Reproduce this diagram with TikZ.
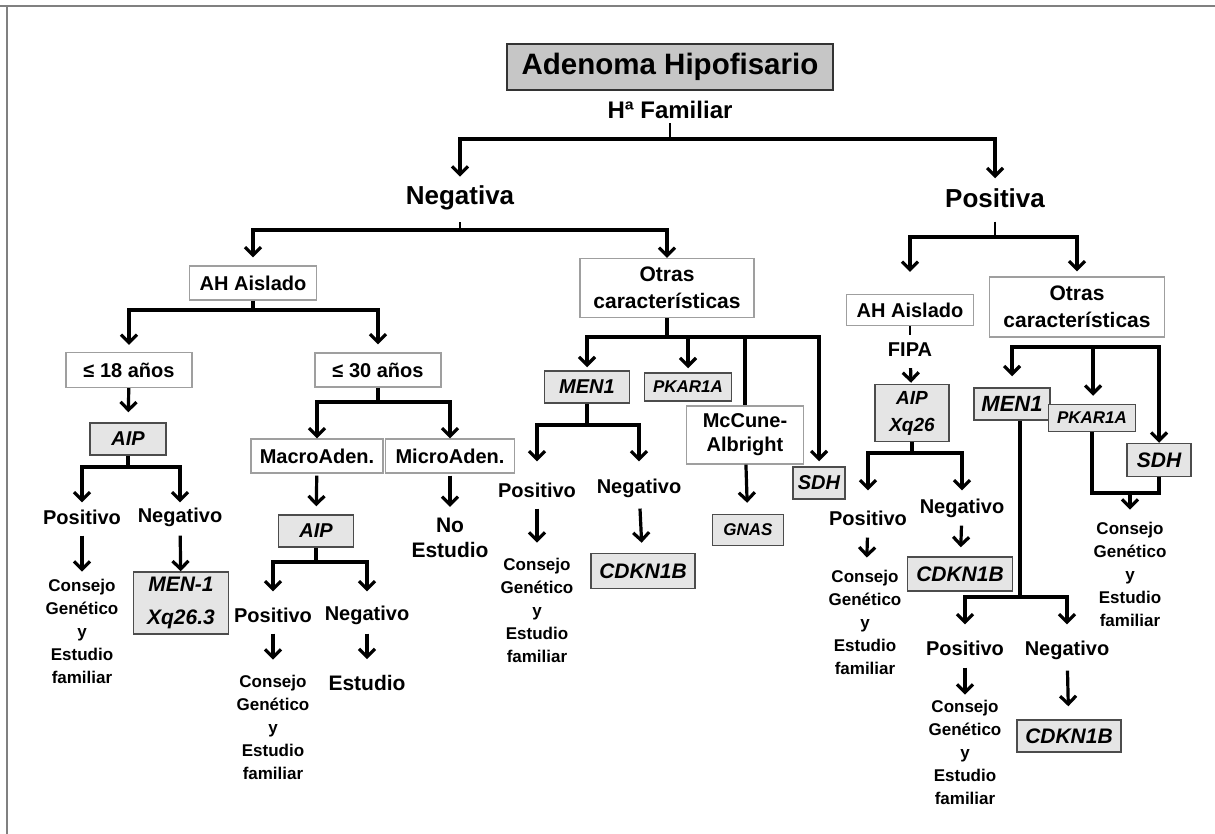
\documentclass[tikz,border=0pt]{standalone}
\usepackage{fontspec}
\setmainfont{Liberation Sans}
\usetikzlibrary{arrows.meta}
\tikzset{
 txt/.style={font=\bfseries\fontsize{20}{23}\selectfont, inner sep=1pt, align=center},
 big/.style={font=\bfseries\fontsize{26}{30}\selectfont, inner sep=1pt},
 cons/.style={font=\bfseries\fontsize{17}{23}\selectfont, inner sep=1pt, align=center},
 box/.style={draw=gray!75, line width=1.2pt, fill=white, inner sep=0pt, align=center, font=\bfseries\fontsize{20}{25}\selectfont},
 gene/.style={draw=black!70, line width=1.5pt, fill=gray!20, inner sep=0pt, align=center, font=\bfseries\itshape\fontsize{20}{25}\selectfont},
 arr/.style={line width=3.2pt, -{Straight Barb[length=8pt,width=16pt]}},
 bar/.style={line width=3.2pt},
 tick/.style={line width=1.6pt},
}
\begin{document}
\begin{tikzpicture}[x=1pt,y=-1pt]
 \useasboundingbox (0,0) rectangle (1215,834);
 \draw[gray, line width=2pt] (0,6) -- (1215,6);
 \draw[gray, line width=2pt] (7,6) -- (7,834);
 % top
 \node[box, fill=gray!45, draw=black!80, line width=1.8pt, minimum width=326, minimum height=46, font=\bfseries\fontsize{29.5}{33}\selectfont] (ah) at (670,67) {Adenoma Hipofisario};
 \node[big, font=\bfseries\fontsize{24}{28}\selectfont] (hf) at (670,110) {Hª Familiar};
 \node[big] (neg) at (460,198) {Negativa};
 \node[big] (pos) at (995,198) {Positiva};
 \coordinate (j0) at (670,139);
 \draw[tick, shorten <=3pt] (hf) -- (j0);
 \draw[arr, shorten >=8pt] (j0) -| (neg);
 \draw[arr, shorten >=9pt] (j0) -| (pos);
 % negativa
 \node[box, minimum width=127, minimum height=34] (ahL) at (253,283) {AH Aislado};
 \node[box, minimum width=174, minimum height=59, font=\bfseries\fontsize{21}{27}\selectfont] (otM) at (667,288) {Otras\\características};
 \coordinate (j1) at (460,230);
 \draw[tick, shorten <=11pt] (neg) -- (j1);
 \draw[arr, shorten >=8pt] (j1) -| (ahL);
 \draw[arr] (j1) -| (otM);
 % AH aislado
 \node[box, minimum width=126, minimum height=35] (e18) at (129,370) {≤ 18 años};
 \node[box, minimum width=126, minimum height=34] (e30) at (378,370) {≤ 30 años};
 \coordinate (j3) at (253,310);
 \draw[bar] (ahL) -- (j3);
 \draw[arr, shorten >=7pt] (j3) -| (e18);
 \draw[arr, shorten >=8pt] (j3) -| (e30);
 \node[gene, minimum width=76, minimum height=32] (aipA) at (128,439) {AIP};
 \draw[arr, shorten >=10pt] (e18) -- (aipA);
 \node[txt] (posA) at (82,517) {Positivo};
 \node[txt] (negA) at (180,517) {Negativo};
 \coordinate (j4) at (128,467);
 \draw[bar] (aipA) -- (j4);
 \draw[arr, shorten >=6pt] (j4) -| (posA);
 \draw[arr, shorten >=4pt] (j4) -| (negA);
 \node[cons] (conA) at (82,631) {Consejo\\Genético\\y\\Estudio\\familiar};
 \node[gene, minimum width=95, minimum height=62, font=\bfseries\itshape\fontsize{21}{33}\selectfont] (menA) at (181,603) {MEN-1\\Xq26.3};
 \draw[arr, shorten <=10pt, shorten >=6pt] (posA) -- (conA);
 \draw[arr, shorten <=8pt] (negA) -- (menA);
 % 30 anos
 \node[box, minimum width=132, minimum height=34] (mac) at (317,456) {MacroAden.};
 \node[box, minimum width=129, minimum height=34] (mic) at (450,456) {MicroAden.};
 \coordinate (j5) at (378,402);
 \draw[bar] (e30) -- (j5);
 \draw[arr] (j5) -| (mac);
 \draw[arr] (j5) -| (mic);
 \node[gene, minimum width=75, minimum height=32] (aipB) at (316,531) {AIP};
 \node[txt, font=\bfseries\fontsize{21}{25}\selectfont] (noe) at (450,538) {No\\Estudio};
 \draw[arr, shorten <=2pt, shorten >=8pt] (mac) -- (aipB);
 \draw[arr, shorten <=2pt, shorten >=10pt] (mic) -- (noe);
 \node[txt] (posB) at (273,615) {Positivo};
 \node[txt] (negB) at (367,615) {Negativo};
 \coordinate (j6) at (316,562);
 \draw[bar] (aipB) -- (j6);
 \draw[arr, shorten >=15pt] (j6) -| (posB);
 \draw[arr, shorten >=13pt] (j6) -| (negB);
 \node[cons] (conB) at (273,727) {Consejo\\Genético\\y\\Estudio\\familiar};
 \node[txt, font=\bfseries\fontsize{21}{25}\selectfont] (estB) at (367,683) {Estudio};
 \draw[arr, shorten <=10pt, shorten >=14pt] (posB) -- (conB);
 \draw[arr, shorten <=8pt, shorten >=15pt] (negB) -- (estB);
 % otras caracteristicas
 \node[gene, minimum width=85, minimum height=32] (menM) at (587,387) {MEN1};
 \node[gene, minimum width=87, minimum height=28, font=\bfseries\itshape\fontsize{17}{20}\selectfont] (pkM) at (688,387) {PKAR1A};
 \node[box, minimum width=117, minimum height=58, font=\bfseries\fontsize{20}{24}\selectfont] (mcc) at (745,435) {McCune-\\Albright};
 \node[gene, minimum width=71, minimum height=31, font=\bfseries\itshape\fontsize{17}{20}\selectfont] (gnas) at (748,530) {GNAS};
 \node[gene, minimum width=52, minimum height=32] (sdhM) at (819,483) {SDH};
 \coordinate (j7) at (667,337);
 \draw[bar] (otM) -- (j7);
 \draw[arr, shorten >=3pt] (j7) -| (menM);
 \draw[arr, shorten >=4pt] (j7) -| (pkM);
 \draw[bar] (j7) -| (mcc);
 \draw[arr, shorten >=5pt] (j7) -| (sdhM);
 \draw[arr, shorten >=11pt] (mcc) -- (gnas);
 \node[txt] (posC) at (537,490) {Positivo};
 \node[txt] (negC) at (639,488) {Negativo};
 \coordinate (j8) at (587,425);
 \draw[bar] (menM) -- (j8);
 \draw[arr, shorten >=20pt] (j8) -| (posC);
 \draw[arr, shorten >=16pt] (j8) -| (negC);
 \node[cons] (conC) at (537,610) {Consejo\\Genético\\y\\Estudio\\familiar};
 \node[gene, minimum width=104, minimum height=35, font=\bfseries\itshape\fontsize{21}{25}\selectfont] (cdkC) at (643,571) {CDKN1B};
 \draw[arr, shorten <=10pt, shorten >=14pt] (posC) -- (conC);
 \draw[arr, shorten <=10pt, shorten >=10pt] (negC) -- (cdkC);
 % positiva
 \node[box, minimum width=127, minimum height=31] (ahR) at (910,310) {AH Aislado};
 \node[box, minimum width=175, minimum height=60, font=\bfseries\fontsize{21}{27}\selectfont] (otR) at (1077,307) {Otras\\características};
 \coordinate (j2) at (995,237);
 \draw[tick, shorten <=13pt] (pos) -- (j2);
 \draw[arr, shorten >=22pt] (j2) -| (ahR);
 \draw[arr, shorten >=5pt] (j2) -| (otR);
 \node[txt] (fipa) at (910,350) {FIPA};
 \node[gene, minimum width=74, minimum height=57, font=\bfseries\itshape\fontsize{19}{27}\selectfont] (aipR) at (912,413) {AIP\\Xq26};
 \draw[tick, shorten >=7pt] (ahR) -- (fipa);
 \draw[arr, shorten <=10pt, shorten >=1pt] (fipa) -- (aipR);
 \node[txt] (posD) at (868,518) {Positivo};
 \node[txt] (negD) at (962,508) {Negativo};
 \coordinate (j9) at (912,453);
 \draw[bar] (aipR) -- (j9);
 \draw[arr, shorten >=19pt] (j9) -| (posD);
 \draw[arr, shorten >=7pt] (j9) -| (negD);
 \node[cons] (conD) at (865,622) {Consejo\\Genético\\y\\Estudio\\familiar};
 \node[gene, minimum width=105, minimum height=34, font=\bfseries\itshape\fontsize{21}{25}\selectfont] (cdkD) at (960,574) {CDKN1B};
 \draw[arr, shorten <=11pt, shorten >=11pt] (posD) -- (conD);
 \draw[arr, shorten <=7pt, shorten >=9pt] (negD) -- (cdkD);
 % otras caracteristicas (positiva)
 \node[gene, minimum width=76, minimum height=32, font=\bfseries\itshape\fontsize{22}{25}\selectfont] (menR) at (1012,404) {MEN1};
 \node[gene, minimum width=87, minimum height=27, font=\bfseries\itshape\fontsize{17}{20}\selectfont] (pkR) at (1092,418) {PKAR1A};
 \node[gene, minimum width=64, minimum height=33, font=\bfseries\itshape\fontsize{21}{25}\selectfont] (sdhR) at (1159,460) {SDH};
 \coordinate (j10) at (1093,347);
 \draw[arr, shorten >=11pt] (j10) -| (menR);
 \draw[arr, shorten >=8pt] (j10) -- (j10 |- pkR.north);
 \draw[arr] (j10) -| (sdhR);
 \node[cons] (conE) at (1130,574) {Consejo\\Genético\\y\\Estudio\\familiar};
 \coordinate (j11) at (1130,493);
 \draw[bar] (pkR) |- (j11);
 \draw[bar] (sdhR) |- (j11);
 \draw[arr, shorten >=11pt] (j11) -- (conE);
 \node[txt] (posE) at (965,648) {Positivo};
 \node[txt] (negE) at (1067,650) {Negativo};
 \coordinate (j12) at (1020,597);
 \draw[bar] (menR.south -| j12) -- (j12);
 \draw[arr, shorten >=15pt] (j12) -| (posE);
 \draw[arr, shorten >=15pt] (j12) -| (negE);
 \node[cons] (conF) at (965,752) {Consejo\\Genético\\y\\Estudio\\familiar};
 \node[gene, minimum width=104, minimum height=32, font=\bfseries\itshape\fontsize{21}{25}\selectfont] (cdkE) at (1069,736) {CDKN1B};
 \draw[arr, shorten <=11pt, shorten >=4pt] (posE) -- (conF);
 \draw[arr, shorten <=10pt, shorten >=13pt] (negE) -- (cdkE);
\end{tikzpicture}
\end{document}
